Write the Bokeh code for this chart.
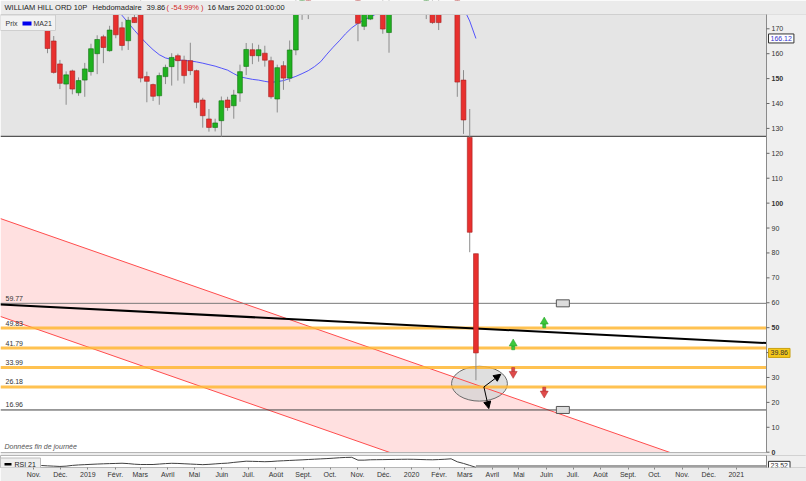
import numpy as np
import pandas as pd
from datetime import datetime, timedelta
from bokeh.plotting import figure
from bokeh.layouts import column
from bokeh.models import (Range1d, FixedTicker, CustomJSTickFormatter,
                          Arrow, NormalHead, ColumnDataSource)
from bokeh.core.properties import value
from bokeh.embed import file_html
from bokeh.resources import INLINE

nan = float("nan")

# ------------------------------------------------------------------ data
title_parts = ["WILLIAM HILL ORD 10P", "Hebdomadaire", "39.86", "( -54.99% )",
               "16 Mars 2020 01:00:00"]
title_colors = ["#222222", "#222222", "#222222", "#d42a2a", "#222222"]

first_week = "2018-11-12"          # weekly candles (Monday)
candle_open = [
    172.0, 165.1, 155.9, 147.8, 153.1, 144.3, 149.4, 152.8, 160.0, 166.8,
    161.2, 178.0, 170.4, 165.2, 174.5, 180.0, 150.8, 147.6, 143.1, 150.8,
    154.8, 159.2, 157.4, 157.2, 153.2, 141.4, 133.8, 130.4, 133.1, 141.4,
    139.1, 144.2, 154.9, 161.6, 159.2, 160.2, 157.2, 141.8, 155.2, 150.2,
    161.5, 178.0, 182.0, nan, nan, nan, nan, nan, nan, nan,
    182.0, 171.0, 173.9, nan, 180.0, 168.5, nan, nan, nan, nan,
    nan, 180.0, 180.0, 180.0, nan, nan, 190.0, 149.4, 126.4, 79.7,
]
candle_high = [
    176.0, 167.1, 157.5, 152.9, 153.6, 150.5, 156.3, 164.0, 167.4, 167.6,
    171.2, 180.0, 172.8, 174.8, 176.0, 182.0, 152.8, 148.0, 152.4, 155.6,
    160.2, 160.0, 159.2, 164.4, 153.6, 142.3, 137.8, 133.9, 142.8, 142.7,
    145.5, 155.6, 164.3, 164.2, 163.6, 163.2, 158.8, 155.6, 157.0, 165.3,
    185.0, 186.0, 186.0, nan, nan, nan, nan, nan, nan, nan,
    185.0, 180.0, 180.0, nan, 183.0, 182.0, nan, nan, nan, nan,
    nan, 186.0, 183.0, 183.0, nan, nan, 195.0, 153.4, 137.8, 79.7,
]
candle_low = [
    160.2, 152.0, 145.8, 139.5, 143.7, 143.1, 142.7, 151.2, 151.8, 156.2,
    160.8, 166.2, 161.3, 161.5, 172.4, 148.5, 140.5, 141.0, 139.5, 147.8,
    147.2, 149.2, 148.0, 151.4, 138.1, 130.3, 128.7, 128.8, 126.7, 137.1,
    133.9, 140.7, 151.4, 155.8, 156.8, 154.8, 141.9, 136.4, 145.5, 148.7,
    159.4, 173.6, 173.9, nan, nan, nan, nan, nan, nan, nan,
    165.0, 169.5, 173.5, nan, 168.0, 160.4, nan, nan, nan, nan,
    nan, 173.9, 172.0, 169.5, nan, nan, 142.7, 127.8, 80.3, 28.9,
]
candle_close = [
    162.1, 152.5, 148.1, 151.5, 145.8, 149.2, 153.9, 162.0, 165.7, 162.5,
    169.5, 167.6, 163.3, 173.4, 172.5, 150.2, 148.9, 142.9, 151.2, 154.5,
    158.5, 157.2, 151.2, 153.2, 140.5, 135.1, 130.4, 132.2, 141.1, 138.4,
    143.4, 152.8, 161.7, 159.2, 161.6, 157.4, 142.7, 154.4, 150.2, 161.5,
    180.0, 182.0, 180.0, nan, nan, nan, nan, nan, nan, nan,
    172.2, 178.0, 179.0, nan, 169.9, 180.0, nan, nan, nan, nan,
    nan, 183.0, 172.5, 172.5, nan, nan, 148.6, 133.4, 88.3, 39.86,
]
ma21 = [nan] * 11 + [
    178.6, 175.4, 172.4, 169.4, 166.6, 164.0, 161.6, 159.6, 158.3,
    157.7, 157.5, 157.3, 157.1, 156.7, 156.2, 155.6, 155.0, 154.2, 153.4,
    152.0, 150.7, 150.2, 149.7, 149.4, 148.9, 148.5, 148.8, 149.2, 150.0,
    150.9, 152.0, 153.2, 154.8, 156.8, 159.8, 162.6, 165.2, 168.0, 170.4,
    172.2, 173.6, 174.8, 176.0, nan, nan, nan, nan, nan, nan,
    nan, nan, nan, nan, nan, nan, nan, 178.3, 173.1, 166.12,
]
ma21_last = 166.12
price_last = 39.86

rsi_first_week = "2018-11-05"
rsi21 = [
    29.7,
    28.5, 27.5, 26.5, 27.5, 30.0, 31.5, 32.5, 33.5, 34.5, 35.3,
    36.0, 36.5, 37.2, 36.0, 34.0, 33.0, 33.0, 33.0, 34.5, 36.0,
    37.0, 36.5, 35.5, 34.5, 33.5, 32.5, 33.5, 35.0, 36.5, 37.5,
    40.0, 42.0, 44.0, 43.5, 43.0, 42.3, 43.0, 44.5, 45.5, 46.5,
    47.5, 48.5, 49.7, 50.7, 51.7, 52.7, 54.0, 55.5, 56.5, 57.0,
    47.5, 47.5, 48.7, 49.0, 49.3, 49.7, 50.0, 50.3, 50.6, 50.3,
    49.7, 49.0, 48.7, 49.5, 50.5, 52.0, 42.0, 36.5, 30.0, 23.52,
]
rsi_last = 23.52
rsi_ref_level = 28.0

levels = [59.77, 49.83, 41.79, 33.99, 26.18, 16.96]
level_colors = ["#7a7a7a", "#ffb733", "#ffb733", "#ffb733", "#ffb733", "#404040"]
level_widths = [1, 3, 3, 3, 3, 1]
level_alphas = [1.0, 0.85, 0.85, 0.85, 0.85, 1.0]

zone_floor = 126.8                       # grey zone in the upper part
trend_dates = ["2018-09-20", "2021-01-31"]
trend_values = [59.3, 43.8]
channel_upper = [93.8, -13.7]
channel_lower = [54.5, -53.0]

ellipse_date = "2020-03-13"
ellipse_value = 27.5
ellipse_width_days = 63
ellipse_height = 14.0

arrow_start_dates = ["2020-03-18", "2020-03-18"]
arrow_start_values = [26.2, 26.2]
arrow_end_dates = ["2020-04-06", "2020-03-23 12:00"]
arrow_end_values = [31.3, 17.5]

box_dates = ["2020-06-15", "2020-06-15"]
box_values = [59.77, 16.96]

signal_dates = ["2020-04-20", "2020-05-25", "2020-04-20", "2020-05-25"]
signal_values = [42.9, 51.7, 32.2, 24.3]
signal_dirs = ["up", "up", "down", "down"]

price_ticks = list(range(0, 180, 10))
month_names = ["Janv.", "Févr.", "Mars", "Avril", "Mai", "Juin", "Juil.",
               "Août", "Sept.", "Oct.", "Nov.", "Déc."]

# ------------------------------------------------------------------ geometry helpers
PX_PER_DAY = 0.887
X0 = datetime(2018, 9, 20)
FRAME_TOP = 14
Y_TOP = 175.74
Y_PX = 2.4906
DAY_MS = 86400000.0
FONT = "Liberation Sans"
LABEL_LEAD_DAYS = 4.5     # the month labels sit slightly before the month start


def px_date(px):
    return X0 + timedelta(days=px / PX_PER_DAY)


def ms(dt):
    return (pd.Timestamp(dt) - pd.Timestamp("1970-01-01")).total_seconds() * 1000.0


def px_x(px):
    return ms(px_date(px))


def px_val(py):
    return Y_TOP - (py - FRAME_TOP) / Y_PX


X_LEFT = px_x(0)
X_PLOT = px_x(766)       # right edge of the price pane
X_RIGHT = px_x(806)      # right edge of the page
Y_BOTTOM = px_val(455)
Y_PANE_BOTTOM = px_val(452)
Y_HEADER = px_val(0)

# ------------------------------------------------------------------ main price figure
p = figure(width=806, height=455,
           x_range=Range1d(X_LEFT, X_RIGHT), y_range=Range1d(Y_BOTTOM, Y_HEADER),
           output_backend="svg", toolbar_location=None,
           x_axis_location=None, y_axis_location=None,
           min_border_left=0, min_border_right=0, min_border_top=0, min_border_bottom=0,
           background_fill_color="white", outline_line_color=None)
p.grid.visible = False

# grey upper zone
p.quad(left=[X_LEFT], right=[X_PLOT], bottom=[zone_floor], top=[Y_TOP],
       fill_color="#e5e5e5", line_color=None)
p.line(x=[X_LEFT, X_PLOT], y=[zone_floor, zone_floor], line_color="#555555", line_width=1.2)

# pink channel
t_ms = [ms(d) for d in trend_dates]
p.varea(x=t_ms, y1=channel_lower, y2=channel_upper, fill_color="#ffcccc", fill_alpha=0.6)

# ellipse
p.ellipse(x=[ms(ellipse_date)], y=[ellipse_value], width=[ellipse_width_days * DAY_MS],
          height=[ellipse_height], fill_color="#d4d4d4", fill_alpha=0.75,
          line_color="#6a6a6a", line_width=1)

# channel borders
p.line(x=t_ms, y=channel_upper, line_color="#ff4d4d", line_width=1)
p.line(x=t_ms, y=channel_lower, line_color="#ff4d4d", line_width=1)

# horizontal levels
lvl_src = ColumnDataSource(dict(
    x0=[X_LEFT] * len(levels), x1=[X_PLOT] * len(levels), y=levels,
    color=level_colors, width=level_widths, alpha=level_alphas,
    label=[f"{v:.2f}" for v in levels]))
p.segment(x0="x0", y0="y", x1="x1", y1="y", line_color="color", line_width="width",
          line_alpha="alpha", source=lvl_src)

# black trend line
p.line(x=t_ms, y=trend_values, line_color="black", line_width=2)

# small grey boxes
p.rect(x=[ms(d) for d in box_dates], y=box_values, width=13, height=7,
       width_units="screen", height_units="screen",
       fill_color="#dcdcdc", line_color="#555555", line_width=1)

# signal arrows (head + stem)
for d, v, kind in zip(signal_dates, signal_values, signal_dirs):
    fill = "#3cc83c" if kind == "up" else "#e04a4a"
    edge = "#239a23" if kind == "up" else "#a82a2a"
    head_dy = 0.7 if kind == "up" else -0.7
    marker = "triangle" if kind == "up" else "inverted_triangle"
    p.rect(x=[ms(d)], y=[v - head_dy * 1.4], width=3, height=4,
           width_units="screen", height_units="screen",
           fill_color=fill, line_color=edge, line_width=0.5)
    p.scatter(x=[ms(d)], y=[v + head_dy], marker=marker, size=8,
              fill_color=fill, line_color=edge, line_width=0.5)

# MA21
dates = pd.date_range(first_week, periods=len(candle_open), freq="7D")
p.line(x=dates, y=np.array(ma21), line_color="#3a3aff", line_alpha=0.85, line_width=1)

# candles
o = np.array(candle_open)
h = np.array(candle_high)
l = np.array(candle_low)
c = np.array(candle_close)
up = c > o
csrc = ColumnDataSource(dict(
    x=dates, high=h, low=l, top=np.maximum(o, c), bottom=np.minimum(o, c),
    fill=np.where(up, "#1fb21f", "#e8302e"),
    edge=np.where(up, "#137013", "#a51f1f")))
p.segment(x0="x", y0="low", x1="x", y1="high", line_color="#8c8c8c", line_width=1, source=csrc)
p.vbar(x="x", width=5.4 * DAY_MS, top="top", bottom="bottom", fill_color="fill",
       line_color="edge", line_width=0.6, source=csrc)

# level labels
p.text(x="x0", y="y", text="label", x_offset=5, y_offset=-5, text_baseline="middle",
       text_font=value(FONT), text_font_size="7px", text_color="#333333", source=lvl_src)

# ellipse arrows
arr_src = ColumnDataSource(dict(
    x0=[ms(d) for d in arrow_start_dates], y0=arrow_start_values,
    x1=[ms(d) for d in arrow_end_dates], y1=arrow_end_values))
p.add_layout(Arrow(end=NormalHead(size=7, fill_color="black", line_color="black"),
                   x_start="x0", y_start="y0", x_end="x1", y_end="y1",
                   line_color="black", line_width=1, source=arr_src))

# "Données fin de journée"
p.text(x=[px_x(4)], y=[px_val(446)], text=["Données fin de journée"],
       text_baseline="middle", text_font=value(FONT), text_font_size="7px",
       text_font_style="italic", text_color="#555555")

# separator between price pane and RSI pane
p.quad(left=[X_LEFT], right=[X_RIGHT], bottom=[Y_BOTTOM], top=[Y_PANE_BOTTOM],
       fill_color="#ececec", line_color=None)
p.line(x=[X_LEFT, X_PLOT], y=[Y_PANE_BOTTOM, Y_PANE_BOTTOM], line_color="#b5b5b5", line_width=1)

# header band (covers the top of the pane)
p.quad(left=[X_LEFT], right=[X_RIGHT], bottom=[Y_TOP], top=[Y_HEADER],
       fill_color="#ebebeb", line_color=None)
p.line(x=[X_LEFT, X_RIGHT], y=[Y_TOP, Y_TOP], line_color="#cfcfcf", line_width=1)
header_px = [4, 92, 146, 166, 207]
p.text(x=[px_x(v) for v in header_px], y=[px_val(7)] * len(title_parts), text=title_parts,
       text_color=title_colors, text_baseline="middle", text_font=value(FONT),
       text_font_size="7.5px")

# legend box "Prix  MA21"
p.quad(left=[X_LEFT], right=[px_x(55)], bottom=[px_val(30)], top=[px_val(14.5)],
       fill_color="#f2f2f2", line_color="#cfcfcf", line_width=1)
p.quad(left=[px_x(22)], right=[px_x(31)], bottom=[px_val(25)], top=[px_val(21)],
       fill_color="#0000ee", line_color=None)
p.text(x=[px_x(5), px_x(33)], y=[px_val(22.5)] * 2, text=["Prix", "MA21"],
       text_baseline="middle", text_font=value(FONT), text_font_size="7px",
       text_color="#333333")

# right price scale band
p.quad(left=[X_PLOT], right=[X_RIGHT], bottom=[Y_BOTTOM], top=[Y_TOP],
       fill_color="#efefef", line_color=None)
p.line(x=[X_PLOT, X_PLOT], y=[Y_PANE_BOTTOM, Y_TOP], line_color="#8a8a8a", line_width=1)
n_t = len(price_ticks)
tick_src = ColumnDataSource(dict(
    x0=[X_PLOT] * n_t, x1=[px_x(769)] * n_t, xl=[px_x(771)] * n_t, y=price_ticks,
    label=[str(t) for t in price_ticks],
    style=["bold" if t % 50 == 0 else "normal" for t in price_ticks]))
p.segment(x0="x0", y0="y", x1="x1", y1="y", line_color="#666666", line_width=1, source=tick_src)
p.text(x="xl", y="y", text="label", text_font_style="style", text_baseline="middle",
       text_font=value(FONT), text_font_size="7px", text_color="#333333", source=tick_src)

# value boxes on the right scale
p.text(x=[px_x(768)], y=[ma21_last], text=[f"{ma21_last:.2f}"], text_baseline="middle",
       text_font=value(FONT), text_font_size="7px", text_color="#3333cc",
       background_fill_color="white", border_line_color="#333333", padding=2)
p.text(x=[px_x(768)], y=[price_last], text=[f"{price_last:.2f}"], text_baseline="middle",
       text_font=value(FONT), text_font_size="7px", text_color="#333333",
       background_fill_color="#f6c81a", border_line_color="#c9a010", padding=2)

# ------------------------------------------------------------------ RSI figure
RSI_LO, RSI_HI = 23.0, 63.0
RSI_TOP_PX, RSI_BOTTOM_PX = 455, 467


def rsi_val(py):
    return RSI_LO + (RSI_BOTTOM_PX - py) * (RSI_HI - RSI_LO) / (RSI_BOTTOM_PX - RSI_TOP_PX)


r = figure(width=806, height=26, x_axis_type="datetime", x_range=p.x_range,
           y_range=Range1d(RSI_LO, RSI_HI), output_backend="svg", toolbar_location=None,
           y_axis_location=None, min_border_left=0, min_border_right=0,
           min_border_top=0, min_border_bottom=14,
           background_fill_color="white", border_fill_color="#ececec",
           outline_line_color="#b5b5b5")
r.grid.visible = False
xa = r.xaxis[0]
month_starts = pd.date_range("2018-11-01", "2021-01-01", freq="MS")
lead_ms = LABEL_LEAD_DAYS * DAY_MS
xa.ticker = FixedTicker(ticks=[ms(d) - lead_ms for d in month_starts])
xa.formatter = CustomJSTickFormatter(args=dict(names=month_names, lead=lead_ms), code="""
    const d = new Date(tick + lead);
    const m = d.getUTCMonth();
    return m == 0 ? String(d.getUTCFullYear()) : names[m];
""")
xa.major_label_text_font = FONT
xa.major_label_text_font_size = "7px"
xa.major_label_text_color = "#333333"
xa.major_tick_out = 2
xa.major_tick_in = 0
xa.minor_tick_out = 0
xa.minor_tick_in = 0
xa.major_label_standoff = 1
xa.axis_line_color = None
xa.major_tick_line_color = "#888888"

rsi_dates = pd.date_range(rsi_first_week, periods=len(rsi21), freq="7D")
r.line(x=[ms(rsi_dates[-1]), X_PLOT], y=[rsi_ref_level, rsi_ref_level],
       line_color="#a0a0a0", line_width=2)
r.line(x=rsi_dates, y=rsi21, line_color="#404040", line_width=1)

# RSI legend box
r.quad(left=[X_LEFT], right=[px_x(40)], bottom=[rsi_val(469)], top=[rsi_val(457.5)],
       fill_color="#eeeeee", line_color="#bbbbbb", line_width=1)
r.quad(left=[px_x(4)], right=[px_x(11)], bottom=[rsi_val(465)], top=[rsi_val(462.5)],
       fill_color="black", line_color=None)
r.text(x=[px_x(14)], y=[rsi_val(463.5)], text=["RSI 21"], text_baseline="middle",
       text_font=value(FONT), text_font_size="7px", text_color="#222222")

# right scale band of the RSI pane
r.quad(left=[X_PLOT], right=[X_RIGHT], bottom=[RSI_LO - 10], top=[RSI_HI + 10],
       fill_color="#efefef", line_color=None)
r.line(x=[X_PLOT, X_PLOT], y=[RSI_LO - 10, RSI_HI + 10], line_color="#8a8a8a", line_width=1)
r.text(x=[px_x(768)], y=[rsi_last], y_offset=-1.5, text=[f"{rsi_last:.2f}"],
       text_baseline="middle", text_font=value(FONT), text_font_size="7px",
       text_color="#333333", background_fill_color="white", border_line_color="#333333",
       padding=2)

layout = column(p, r, spacing=0)
open("out.html", "w").write(file_html(layout, INLINE, title="William Hill"))
